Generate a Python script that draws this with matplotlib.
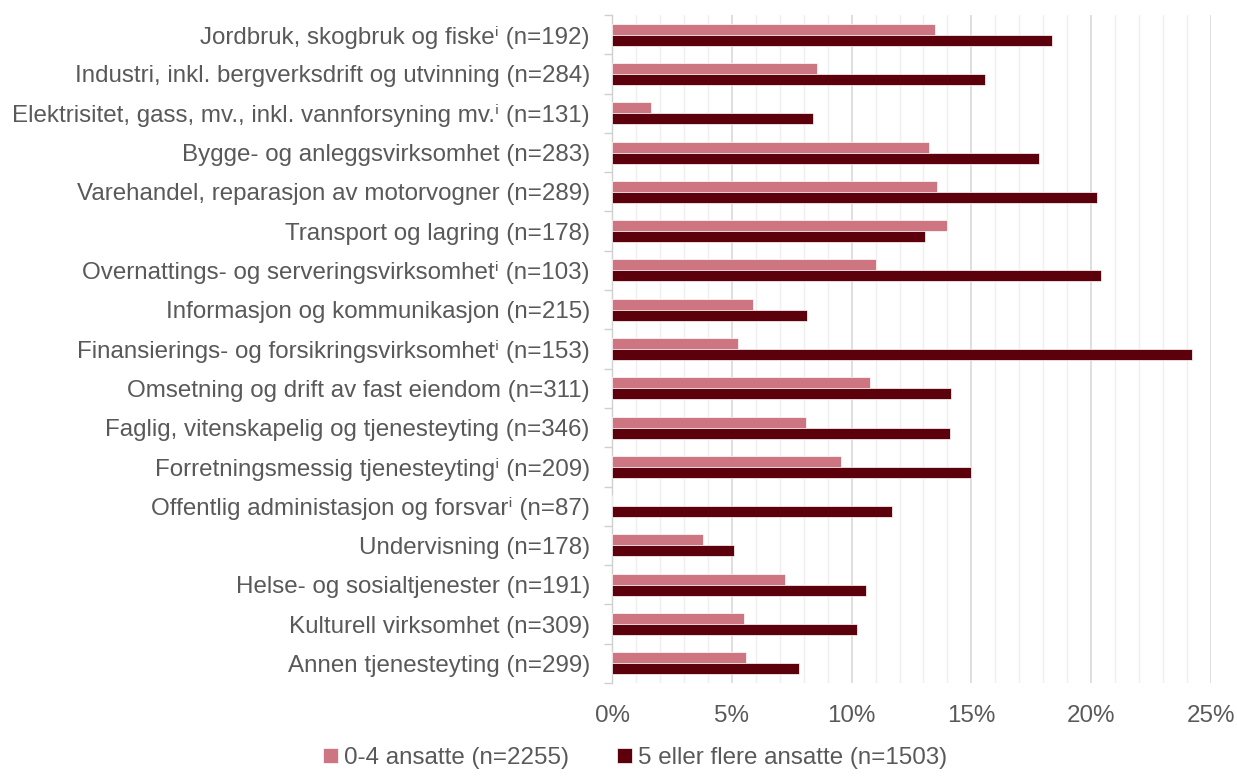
import numpy as np
import matplotlib
matplotlib.use("Agg")
import matplotlib.pyplot as plt
from matplotlib.ticker import MultipleLocator, PercentFormatter, FixedLocator

plt.rcParams['font.family'] = ['Liberation Sans', 'DejaVu Sans']

categories = [
    "Jordbruk, skogbruk og fiske\u2071 (n=192)",
    "Industri, inkl. bergverksdrift og utvinning (n=284)",
    "Elektrisitet, gass, mv., inkl. vannforsyning mv.\u2071 (n=131)",
    "Bygge- og anleggsvirksomhet (n=283)",
    "Varehandel, reparasjon av motorvogner (n=289)",
    "Transport og lagring (n=178)",
    "Overnattings- og serveringsvirksomhet\u2071 (n=103)",
    "Informasjon og kommunikasjon (n=215)",
    "Finansierings- og forsikringsvirksomhet\u2071 (n=153)",
    "Omsetning og drift av fast eiendom (n=311)",
    "Faglig, vitenskapelig og tjenesteyting (n=346)",
    "Forretningsmessig tjenesteyting\u2071 (n=209)",
    "Offentlig administasjon og forsvar\u2071 (n=87)",
    "Undervisning (n=178)",
    "Helse- og sosialtjenester (n=191)",
    "Kulturell virksomhet (n=309)",
    "Annen tjenesteyting (n=299)",
]

small = [13.46, 8.54, 1.64, 13.22, 13.58, 13.98, 11.03, 5.90, 5.25,
         10.76, 8.10, 9.54, 0.0, 3.80, 7.22, 5.53, 5.61]
large = [18.36, 15.56, 8.37, 17.83, 20.25, 13.07, 20.42, 8.14, 24.22,
         14.15, 14.10, 14.97, 11.69, 5.10, 10.59, 10.24, 7.80]

series_labels = ["0-4 ansatte (n=2255)", "5 eller flere ansatte (n=1503)"]
colors = ["#CD7580", "#5C000C"]
text_color = "#595959"
fs = 17.4

fig = plt.figure(figsize=(12.37, 7.76), dpi=100, facecolor='white')
ax = fig.add_axes([612 / 1237, 1 - 683 / 776, (1211 - 612) / 1237, (683 - 15) / 776])

y = np.arange(len(categories))
h = 0.28
bars = []
for i, (vals, lab) in enumerate(zip([small, large], series_labels)):
    b = ax.barh(y - h / 2 + i * h, vals, height=h, color=colors[i],
                edgecolor='white', linewidth=0.5, label=lab, zorder=3)
    bars.append(b)

ax.set_ylim(len(categories) - 0.5, -0.5)
ax.set_xlim(0, 25)
ax.set_yticks(y)
ax.set_yticklabels(categories, fontsize=fs, color=text_color)
ax.yaxis.set_minor_locator(FixedLocator(np.arange(-0.5, len(categories), 1)))
ax.tick_params(axis='y', which='major', length=0, pad=16)
ax.tick_params(axis='y', which='minor', length=6, color='#D0D0D0', width=1)

ax.xaxis.set_major_locator(MultipleLocator(5))
ax.xaxis.set_minor_locator(MultipleLocator(1))
ax.xaxis.set_major_formatter(PercentFormatter(decimals=0))
ax.tick_params(axis='x', which='both', length=0, pad=16,
               labelsize=fs, labelcolor=text_color)
ax.grid(axis='x', which='major', color='#D9D9D9', lw=1.2, zorder=0)
ax.grid(axis='x', which='minor', color='#EFEFEF', lw=1.0, zorder=0)

for s in ['top', 'right', 'bottom']:
    ax.spines[s].set_visible(False)
ax.spines['left'].set_color('#D0D0D0')
ax.spines['left'].set_linewidth(1.0)

fig.legend(handles=bars, labels=series_labels, loc='center',
           bbox_to_anchor=(635 / 1237, 1 - 758 / 776), ncol=2,
           frameon=False, fontsize=fs, labelcolor=text_color,
           handlelength=0.6, handleheight=0.6, handletextpad=0.25,
           columnspacing=2.0)

fig.savefig("out.png", dpi=100, facecolor='white')
